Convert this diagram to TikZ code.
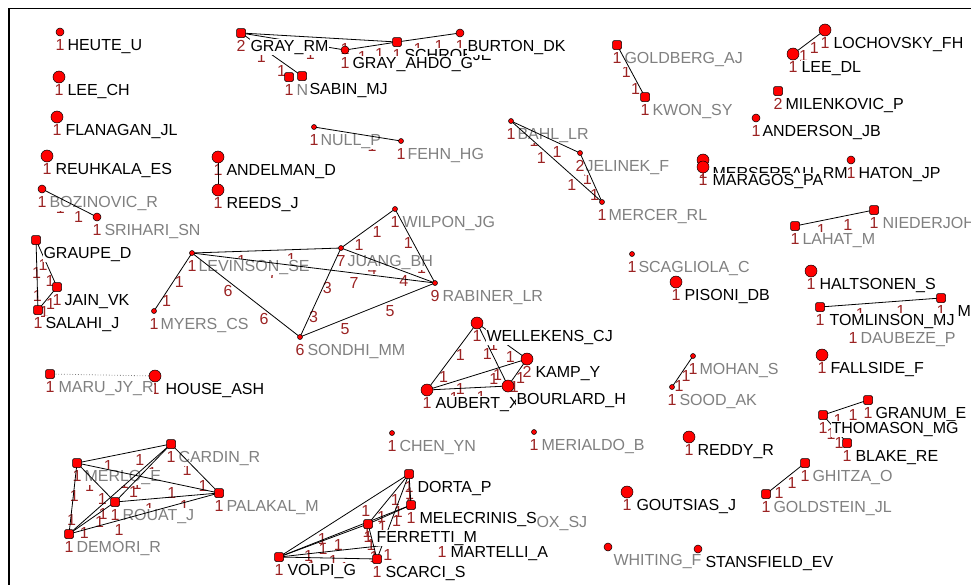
\documentclass[tikz,border=0pt]{standalone}
\usepackage{fontspec}
\setmainfont{Liberation Sans}
\pgfdeclarelayer{dig}
\pgfdeclarelayer{glayer}
\pgfdeclarelayer{edges}
\pgfdeclarelayer{blayer}
\pgfsetlayers{dig,glayer,edges,main,blayer}
\definecolor{wred}{RGB}{155,35,35}
\definecolor{lgray}{RGB}{128,128,128}
\definecolor{mred}{RGB}{255,0,0}
\tikzset{
 fnt/.style={font=\fontsize{16}{18}\selectfont},
 lab/.style={fnt, inner sep=0.3pt, anchor=base west, fill=white, text height=11.6pt, text depth=3.4pt},
 glab/.style={lab, text=lgray},
 blab/.style={lab, text=black},
 nlab/.style={fnt, inner sep=0pt, anchor=base, text=wred},
 wlab/.style={fnt, inner sep=0pt, anchor=north, text=wred, yshift=-4pt},
 mk/.style={draw=black, line width=0.5pt, fill=mred, inner sep=0pt},
 ms/.style={mk, circle, minimum size=5pt},
 mm/.style={mk, circle, minimum size=8pt},
 ml/.style={mk, circle, minimum size=12pt},
 mq/.style={mk, rectangle, rounded corners=1.5pt, minimum size=9pt},
 eline/.style={draw=black, line width=0.8pt},
 dline/.style={draw=lgray, line width=0.8pt, dotted},
}
% id, x, y, marker, number, text, g/b, x-offset
\newcommand{\gn}[8]{%
  \node[#4] (#1) at (#2,#3) {};
  \begin{pgfonlayer}{dig}\node[nlab] at (#2,#3+18) {#5};\end{pgfonlayer}
  \ifx g#7
    \begin{pgfonlayer}{glayer}\node[glab] (#1-l) at (#2+#8,#3+18) {#6};\end{pgfonlayer}
  \else
    \begin{pgfonlayer}{blayer}\node[blab] (#1-l) at (#2+#8,#3+18) {#6};\end{pgfonlayer}
  \fi}
\newcommand{\gedge}[3]{%
  \begin{pgfonlayer}{edges}\draw[eline] (#1.center) -- (#2.center);\end{pgfonlayer}
  \begin{pgfonlayer}{dig}\path (#1.center) -- (#2.center) node[wlab,pos=0.333]{#3} node[wlab,pos=0.667]{#3};\end{pgfonlayer}}
\newcommand{\gline}[2]{%
  \begin{pgfonlayer}{edges}\draw[eline] (#1.center) -- (#2.center);\end{pgfonlayer}}
\begin{document}
\begin{tikzpicture}[x=1pt,y=-1pt]
\useasboundingbox (0,0) rectangle (971,584);
\draw[line width=1.3pt] (9,600) -- (9,8.5) -- (990,8.5);
% ---------- nodes ----------
\gn{heute}{60}{32}{mm}{1}{HEUTE\_U}{b}{7}
\gn{leech}{59}{77}{ml}{1}{LEE\_CH}{b}{8}
\gn{flanagan}{57}{117}{ml}{1}{FLANAGAN\_JL}{b}{8}
\gn{reuhkala}{47}{156}{ml}{1}{REUHKALA\_ES}{b}{8}
\gn{bozinovic}{42}{189}{mm}{1}{BOZINOVIC\_R}{g}{7}
\gn{srihari}{97}{217}{mm}{1}{SRIHARI\_SN}{g}{7}
\gn{andelman}{218}{157}{ml}{1}{ANDELMAN\_D}{b}{8}
\gn{reeds}{218}{190}{ml}{1}{REEDS\_J}{b}{8}
\gn{grayrm}{241}{33}{mq}{2}{GRAY\_RM}{b}{9}
\gn{schro}{397}{42}{mq}{1}{SCHROEJE}{b}{7}
\gn{grayahdo}{345}{50}{mm}{1}{GRAY\_AHDO\_G}{b}{7}
\gn{burton}{460}{33}{mm}{1}{BURTON\_DK}{b}{7}
\gn{sabinN}{289}{77}{mq}{1}{N}{g}{7}
\gn{sabin}{302}{76}{mq}{1}{SABIN\_MJ}{b}{7}
\gn{nullp}{314}{127}{ms}{1}{NULL\_P}{g}{6}
\gn{fehn}{401}{141}{ms}{1}{FEHN\_HG}{g}{6}
\gn{goldberg}{617}{45}{mq}{1}{GOLDBERG\_AJ}{g}{7}
\gn{kwon}{645}{97}{mq}{1}{KWON\_SY}{g}{7}
\gn{lochovsky}{825}{30}{ml}{1}{LOCHOVSKY\_FH}{b}{8}
\gn{leedl}{793}{54}{ml}{1}{LEE\_DL}{b}{8}
\gn{milenkovic}{778}{91}{mq}{2}{MILENKOVIC\_P}{b}{7}
\gn{anderson}{756}{118}{mm}{1}{ANDERSON\_JB}{b}{6}
\gn{bahl}{511}{121}{ms}{1}{BAHL\_LR}{g}{6}
\gn{jelinek}{580}{153}{ms}{2}{JELINEK\_F}{g}{5}
\gn{mercer}{602}{202}{ms}{1}{MERCER\_RL}{g}{6}
\gn{mersereau}{703}{160}{ml}{1}{MERSEREAU\_RM}{b}{9}
\gn{maragos}{703}{167}{ml}{1}{MARAGOS\_PA}{b}{9}
\gn{haton}{851}{160}{mm}{1}{HATON\_JP}{b}{7}
\gn{wilpon}{395}{209}{ms}{1}{WILPON\_JG}{g}{7}
\gn{juang}{341}{248}{ms}{7}{JUANG\_BH}{g}{6}
\gn{levinson}{192}{253}{ms}{1}{LEVINSON\_SE}{g}{6}
\gn{rabiner}{435}{283}{ms}{9}{RABINER\_LR}{g}{7}
\gn{sondhi}{300}{337}{ms}{6}{SONDHI\_MM}{g}{7}
\gn{myers}{154}{311}{ms}{1}{MYERS\_CS}{g}{6}
\gn{graupe}{36}{240}{mq}{}{GRAUPE\_D}{b}{7}
\gn{jain}{57}{287}{mq}{1}{JAIN\_VK}{b}{7}
\gn{salahi}{38}{310}{mq}{1}{SALAHI\_J}{b}{7}
\gn{maru}{50}{374}{mq}{1}{MARU\_JY\_R}{g}{8}
\gn{house}{155}{376}{ml}{1}{HOUSE\_ASH}{b}{10}
\gn{scagliola}{632}{254}{ms}{1}{SCAGLIOLA\_C}{g}{6}
\gn{pisoni}{676}{282}{ml}{1}{PISONI\_DB}{b}{8}
\gn{lahat}{795}{226}{mq}{1}{LAHAT\_M}{g}{7}
\gn{nieder}{874}{210}{mq}{1}{NIEDERJOH}{g}{8}
\gn{haltsonen}{811}{271}{ml}{1}{HALTSONEN\_S}{b}{8}
\gn{daubeze}{853}{325}{ms}{1}{DAUBEZE\_P}{g}{7}
\gn{tomlinson}{820}{307}{mq}{1}{TOMLINSON\_MJ}{b}{9}
\gn{moo}{941}{298}{mq}{1}{MO}{b}{16}
\gn{fallside}{822}{355}{ml}{1}{FALLSIDE\_F}{b}{8}
\gn{mohan}{693}{356}{ms}{1}{MOHAN\_S}{g}{6}
\gn{sood}{672}{387}{ms}{1}{SOOD\_AK}{g}{7}
\gn{reddy}{689}{437}{ml}{1}{REDDY\_R}{b}{8}
\gn{granum}{868}{400}{mq}{1}{GRANUM\_E}{b}{7}
\gn{thomason}{823}{415}{mq}{1}{THOMASON\_MG}{b}{8}
\gn{blake}{847}{443}{mq}{1}{BLAKE\_RE}{b}{8}
\gn{ghitza}{805}{463}{mq}{1}{GHITZA\_O}{g}{7}
\gn{goldstein}{766}{494}{mq}{1}{GOLDSTEIN\_JL}{g}{7}
\gn{goutsias}{627}{492}{ml}{1}{GOUTSIAS\_J}{b}{9}
\gn{whiting}{608}{547}{mm}{}{WHITING\_F}{g}{5}
\gn{stansfield}{698}{549}{mm}{}{STANSFIELD\_EV}{b}{7}
\gn{merialdo}{534}{432}{ms}{1}{MERIALDO\_B}{g}{7}
\gn{chen}{392}{433}{ms}{1}{CHEN\_YN}{g}{7}
\gn{wellekens}{477}{323}{ml}{1}{WELLEKENS\_CJ}{b}{9}
\gn{kamp}{527}{359}{ml}{2}{KAMP\_Y}{b}{8}
\gn{aubert}{427}{390}{ml}{1}{AUBERT\_X}{b}{8}
\gn{bourlard}{508}{386}{ml}{}{BOURLARD\_H}{b}{8}
\gn{merlo}{77}{463}{mq}{1}{MERLO\_E}{g}{7}
\gn{cardin}{171}{444}{mq}{1}{CARDIN\_R}{g}{7}
\gn{palakal}{219}{493}{mq}{1}{PALAKAL\_M}{g}{7}
\gn{rouat}{115}{502}{mq}{1}{ROUAT\_J}{g}{7}
\gn{demori}{69}{534}{mq}{1}{DEMORI\_R}{g}{7}
\gn{dorta}{409}{474}{mq}{1}{DORTA\_P}{b}{8}
\gn{martelli}{442}{539}{mq}{1}{MARTELLI\_A}{b}{8}
\gn{ferretti}{368}{524}{mq}{1}{FERRETTI\_M}{b}{8}
\gn{melecrinis}{411}{505}{mq}{1}{MELECRINIS\_S}{b}{8}
\gn{volpi}{279}{557}{mq}{1}{VOLPI\_G}{b}{8}
\gn{scarci}{377}{559}{mq}{1}{SCARCI\_S}{b}{8}
\begin{pgfonlayer}{glayer}\node[glab] (cox-l) at (536,527) {OX\_SJ};\end{pgfonlayer}
% ---------- edges ----------
\gedge{bozinovic}{srihari}{1}
\gline{andelman}{reeds}
\gedge{grayrm}{schro}{1}
\gedge{grayrm}{grayahdo}{1}
\gedge{grayrm}{sabin}{1}
\gedge{grayahdo}{schro}{1}
\gedge{schro}{burton}{1}
\gedge{nullp}{fehn}{1}
\gedge{goldberg}{kwon}{1}
\gedge{lochovsky}{leedl}{1}
\gedge{bahl}{jelinek}{1}
\gedge{bahl}{mercer}{1}
\gedge{jelinek}{mercer}{1}
\gedge{levinson}{juang}{1}
\gedge{levinson}{rabiner}{7}
\gedge{levinson}{sondhi}{6}
\gedge{levinson}{myers}{1}
\gedge{juang}{wilpon}{1}
\gedge{juang}{rabiner}{4}
\gedge{juang}{sondhi}{3}
\gedge{wilpon}{rabiner}{1}
\gedge{sondhi}{rabiner}{5}
\gedge{graupe}{salahi}{1}
\gedge{graupe}{jain}{1}
\gedge{jain}{salahi}{1}
\begin{pgfonlayer}{edges}\draw[dline] (maru.center) -- (house.center);\end{pgfonlayer}
\gedge{lahat}{nieder}{1}
\gedge{tomlinson}{moo}{1}
\gedge{mohan}{sood}{1}
\gedge{thomason}{granum}{1}
\gedge{thomason}{blake}{1}
\gedge{ghitza}{goldstein}{1}
\gedge{wellekens}{aubert}{1}
\gedge{wellekens}{kamp}{1}
\gedge{wellekens}{bourlard}{1}
\gedge{aubert}{kamp}{1}
\gedge{aubert}{bourlard}{1}
\gedge{kamp}{bourlard}{1}
\gedge{merlo}{cardin}{1}
\gedge{merlo}{palakal}{1}
\gedge{merlo}{rouat}{1}
\gedge{merlo}{demori}{1}
\gedge{cardin}{palakal}{1}
\gedge{cardin}{rouat}{1}
\gedge{cardin}{demori}{1}
\gedge{rouat}{palakal}{1}
\gedge{rouat}{demori}{1}
\gedge{demori}{palakal}{1}
\gedge{dorta}{volpi}{1}
\gedge{dorta}{ferretti}{1}
\gedge{dorta}{melecrinis}{1}
\gedge{dorta}{scarci}{1}
\gedge{melecrinis}{ferretti}{1}
\gedge{melecrinis}{volpi}{1}
\gedge{ferretti}{volpi}{1}
\gedge{ferretti}{scarci}{1}
\gedge{volpi}{scarci}{1}
\gedge{volpi}{martelli}{1}
\end{tikzpicture}
\end{document}
